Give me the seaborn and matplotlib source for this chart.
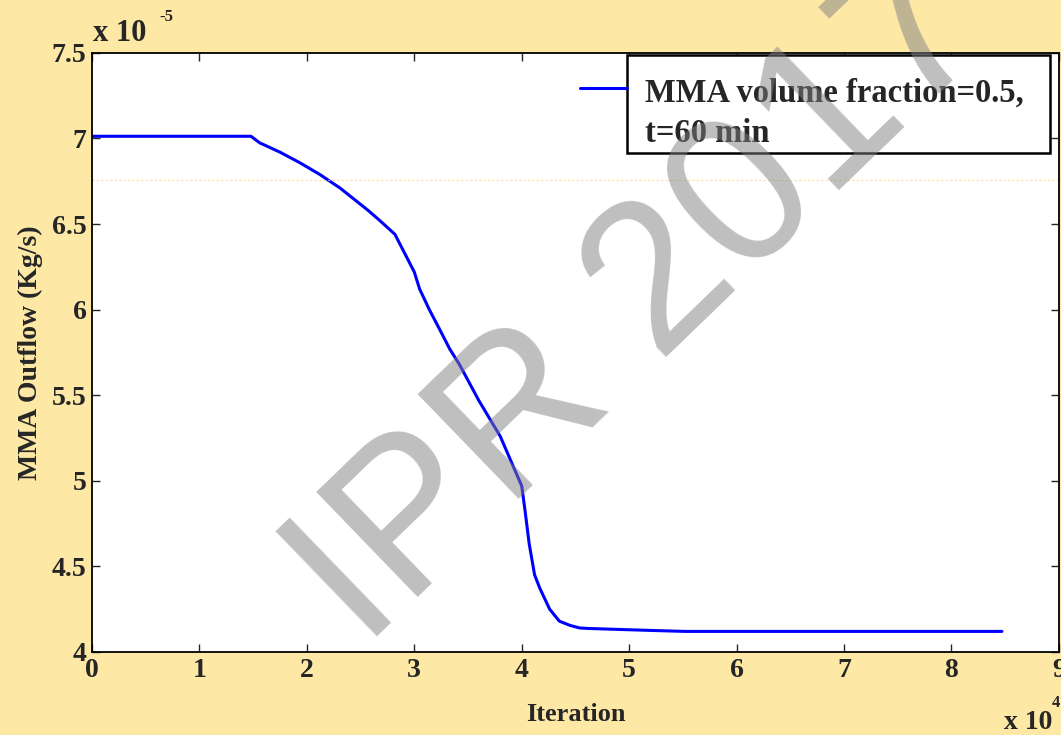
import numpy as np
import pandas as pd
import matplotlib
matplotlib.use("Agg")
import matplotlib.pyplot as plt
from matplotlib.patches import Rectangle
import seaborn as sns

# ==========================================================
# data, x in 1e4 iterations, y in 1e-5 kg/s
# ==========================================================

iteration = [0.0, 1.48, 1.56, 1.75, 1.93, 2.12, 2.31, 2.49, 2.57, 2.68, 2.82,
             3.0, 3.05, 3.14, 3.24, 3.33, 3.42, 3.6, 3.8, 4.0,
             4.03, 4.07, 4.12, 4.17, 4.26, 4.35, 4.45, 4.54, 4.63,
             4.88, 5.19, 5.52, 8.47]
outflow = [7.013, 7.013, 6.975, 6.92, 6.86, 6.79, 6.71, 6.62, 6.58, 6.52, 6.44,
           6.22, 6.12, 6.0, 5.88, 5.77, 5.68, 5.47, 5.26, 4.97,
           4.83, 4.63, 4.45, 4.37, 4.25, 4.18, 4.155, 4.14, 4.137,
           4.132, 4.126, 4.12, 4.12]

x_ticks = [0, 1, 2, 3, 4, 5, 6, 7, 8, 9]
y_ticks = [4, 4.5, 5, 5.5, 6, 6.5, 7, 7.5]
y_tick_labels = ["4", "4.5", "5", "5.5", "6", "6.5", "7", "7.5"]

legend_lines = ["MMA volume fraction=0.5,", "t=60 min"]
watermark = "IPR 2017"

df = pd.DataFrame({"Iteration": iteration, "Outflow": outflow})

# ==========================================================
# style
# ==========================================================

sns.set_style("ticks")
plt.rcParams["font.family"] = ["Liberation Serif", "DejaVu Serif"]
plt.rcParams["font.weight"] = "bold"

bg = "#fde8a6"

fig = plt.figure(figsize=(10.61, 7.35), dpi=100, facecolor=bg)
ax = fig.add_axes([0.0867, 0.113, 0.9113, 0.815])
ax.set_facecolor("white")

sns.lineplot(
    data=df,
    x="Iteration",
    y="Outflow",
    color="#0000ff",
    linewidth=2.2,
    ax=ax,
    legend=False
)

# faint artefact line
ax.axhline(6.76, color="#f5d070", linewidth=0.8, linestyle=(0, (2, 2)), alpha=0.7)

ax.set_xlim(0, 9)
ax.set_ylim(4, 7.5)
ax.set_xticks(x_ticks)
ax.set_xticklabels([str(t) for t in x_ticks])
ax.set_yticks(y_ticks)
ax.set_yticklabels(y_tick_labels)

ax.tick_params(
    axis="both",
    direction="in",
    length=6,
    width=1,
    labelsize=20,
    top=True,
    right=True,
    pad=4
)
for lab in ax.get_xticklabels() + ax.get_yticklabels():
    lab.set_fontweight("bold")

for sp in ax.spines.values():
    sp.set_visible(True)
    sp.set_linewidth(1.3)
    sp.set_color("black")

ax.set_xlabel("Iteration", fontsize=19, fontweight="bold", labelpad=15)
ax.set_ylabel("MMA Outflow (Kg/s)", fontsize=20, fontweight="bold", labelpad=6)

# scale factors
fig.text(0.088, 0.944, "x 10", fontsize=22, fontweight="bold", ha="left", va="baseline")
fig.text(0.150, 0.972, "-5", fontsize=12, fontweight="bold", ha="left", va="baseline")
fig.text(0.946, 0.008, "x 10", fontsize=20, fontweight="bold", ha="left", va="baseline")
fig.text(0.999, 0.038, "4", fontsize=12, fontweight="bold", ha="right", va="baseline")

# legend (matlab style, line sticks out of the box)
ax.add_patch(Rectangle((0.553, 0.833), 0.438, 0.164, transform=ax.transAxes,
                       facecolor="white", edgecolor="black", linewidth=1.8,
                       zorder=5))
ax.plot([0.505, 0.553], [0.942, 0.942], transform=ax.transAxes,
        color="#0000ff", linewidth=2.2, zorder=5)
ax.text(0.572, 0.918, legend_lines[0], transform=ax.transAxes,
        fontsize=23.5, fontweight="bold", ha="left", va="baseline", zorder=6)
ax.text(0.572, 0.852, legend_lines[1], transform=ax.transAxes,
        fontsize=23.5, fontweight="bold", ha="left", va="baseline", zorder=6)

# watermark
fig.text(
    0.343, 0.116, watermark,
    fontsize=152,
    family="Liberation Sans",
    fontweight="normal",
    color=(0.5, 0.5, 0.5),
    alpha=0.5,
    rotation=44,
    rotation_mode="anchor",
    ha="left",
    va="baseline",
    zorder=10
)

plt.savefig("out.png", dpi=100, facecolor=bg)
